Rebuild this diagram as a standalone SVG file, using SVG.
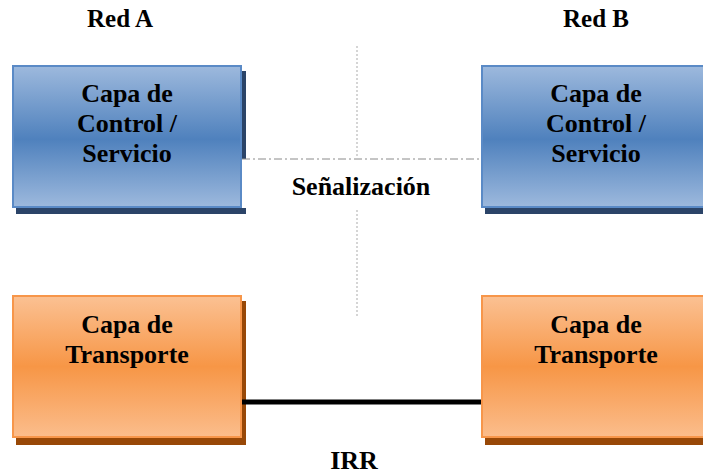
<svg xmlns="http://www.w3.org/2000/svg" width="703" height="476" viewBox="0 0 703 476">
<defs>
<linearGradient id="gBlue" x1="0" y1="0" x2="0" y2="1">
<stop offset="0" stop-color="#9db9dd"/>
<stop offset="0.52" stop-color="#4f81bd"/>
<stop offset="1" stop-color="#9db9dd"/>
</linearGradient>
<linearGradient id="gOrange" x1="0" y1="0" x2="0" y2="1">
<stop offset="0" stop-color="#fbc193"/>
<stop offset="0.5" stop-color="#f79646"/>
<stop offset="1" stop-color="#fbbd8c"/>
</linearGradient>
</defs>
<style>
text { font-family: "Liberation Serif", "Times New Roman", serif; font-weight: bold; font-size: 26px; fill: #000; text-anchor: middle; }
.small { font-size: 25px; }
.blue { fill: url(#gBlue); stroke: #5a8ac6; stroke-width: 2; }
.blueShadow { fill: #2b4468; }
.orange { fill: url(#gOrange); stroke: #f7964a; stroke-width: 2; }
.orangeShadow { fill: #984807; }
</style>
<rect width="703" height="476" fill="#fff"/>

<g id="controlA">
<rect class="blueShadow" x="16" y="71" width="230" height="143"/>
<rect class="blue" x="13" y="66" width="228" height="141"/>
<text x="127" y="102">Capa de</text>
<text x="127" y="132">Control /</text>
<text x="127" y="162">Servicio</text>
</g>

<g id="controlB">
<rect class="blueShadow" x="485" y="71" width="230" height="143"/>
<rect class="blue" x="482" y="66" width="228" height="141"/>
<text x="596" y="102">Capa de</text>
<text x="596" y="132">Control /</text>
<text x="596" y="162">Servicio</text>
</g>

<g id="transportA">
<rect class="orangeShadow" x="16" y="301" width="230" height="144"/>
<rect class="orange" x="13" y="296" width="228" height="141"/>
<text x="127" y="333">Capa de</text>
<text x="127" y="363">Transporte</text>
</g>

<g id="transportB">
<rect class="orangeShadow" x="485" y="301" width="230" height="144"/>
<rect class="orange" x="482" y="296" width="228" height="141"/>
<text x="596" y="333">Capa de</text>
<text x="596" y="363">Transporte</text>
</g>

<g id="signaling">
<rect x="242" y="159" width="239" height="49" fill="#fff"/>
<text x="361" y="195">Señalización</text>
</g>

<g id="connectors">
<line x1="357" y1="46" x2="357" y2="158" stroke="#c8c8c8" stroke-width="1.5" stroke-dasharray="2,2"/>
<line x1="357" y1="210" x2="357" y2="318" stroke="#c8c8c8" stroke-width="1.5" stroke-dasharray="2,2"/>
<line x1="242" y1="159" x2="482" y2="159" stroke="#8a8a8a" stroke-width="1" stroke-dasharray="8,3,2,3"/>
<line x1="242" y1="402" x2="481" y2="402" stroke="#000" stroke-width="5"/>
</g>

<g id="labels">
<text class="small" x="120" y="27">Red A</text>
<text class="small" x="596" y="27">Red B</text>
<text x="354" y="469">IRR</text>
</g>
</svg>
